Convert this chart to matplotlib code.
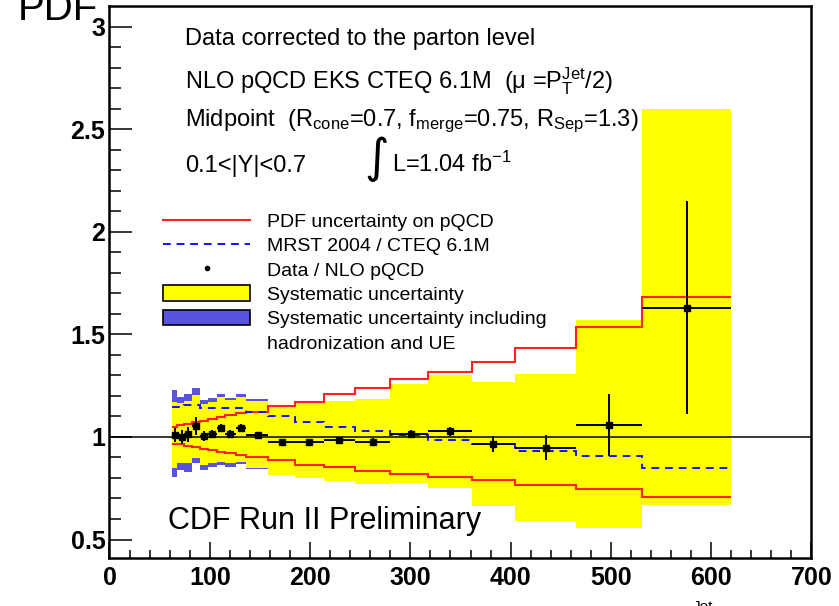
import matplotlib
matplotlib.use("Agg")
import matplotlib.pyplot as plt
from matplotlib.lines import Line2D
from matplotlib.patches import Patch
import numpy as np

plt.rcParams['font.family'] = ['Liberation Sans', 'DejaVu Sans']
plt.rcParams['mathtext.fontset'] = 'custom'
plt.rcParams['mathtext.rm'] = 'Liberation Sans'
plt.rcParams['mathtext.it'] = 'Liberation Sans:italic'
plt.rcParams['mathtext.bf'] = 'Liberation Sans:bold'

# pT bin edges (GeV/c)
edges = [62, 67, 74, 82, 90, 98, 107, 115, 126, 136, 158, 185, 214, 245,
         280, 318, 361, 404, 465, 531, 620]

# data / NLO pQCD
data_x = [65.3, 72, 78.6, 86.2, 94.2, 102.5, 111.2, 120.1, 131.1, 148.4,
          172.3, 198.9, 229.1, 263, 300.3, 339.8, 382.7, 434.9, 498.3, 576.1]
data_y = [1.01, 1.00, 1.013, 1.054, 1.006, 1.015, 1.042, 1.015, 1.042, 1.01,
          0.977, 0.977, 0.984, 0.977, 1.015, 1.028, 0.966, 0.948, 1.058, 1.63]
data_err = [0.035, 0.035, 0.037, 0.043, 0.024, 0.02, 0.02, 0.02, 0.02, 0.012,
            0.012, 0.012, 0.015, 0.018, 0.017, 0.022, 0.04, 0.06, 0.15, 0.52]

# PDF uncertainty on pQCD
pdf_hi = [1.05, 1.057, 1.062, 1.073, 1.078, 1.085, 1.095, 1.106, 1.118, 1.12,
          1.153, 1.172, 1.208, 1.237, 1.283, 1.317, 1.367, 1.433, 1.538, 1.68]
pdf_lo = [0.964, 0.964, 0.957, 0.951, 0.942, 0.936, 0.927, 0.92, 0.91, 0.9,
          0.886, 0.865, 0.852, 0.834, 0.821, 0.805, 0.79, 0.766, 0.745, 0.709]

# MRST 2004 / CTEQ 6.1M
mrst = [1.144, 1.144, 1.155, 1.155, 1.14, 1.14, 1.14, 1.14, 1.14, 1.12,
        1.10, 1.075, 1.05, 1.031, 1.008, 0.984, 0.966, 0.933, 0.907, 0.847]

# systematic uncertainty
sys_hi = [1.172, 1.164, 1.175, 1.205, 1.16, 1.172, 1.197, 1.18, 1.197, 1.175,
          1.145, 1.165, 1.177, 1.184, 1.259, 1.30, 1.27, 1.307, 1.57, 2.60]
sys_lo = [0.847, 0.871, 0.871, 0.896, 0.863, 0.871, 0.88, 0.871, 0.876, 0.85,
          0.815, 0.80, 0.787, 0.772, 0.774, 0.75, 0.663, 0.59, 0.558, 0.668]

# systematic incl. hadronization and UE (first 10 bins)
had_hi = [1.229, 1.197, 1.21, 1.24, 1.18, 1.19, 1.208, 1.19, 1.208, 1.185]
had_lo = [0.806, 0.839, 0.83, 0.871, 0.839, 0.855, 0.863, 0.855, 0.867, 0.842]

blue_fill = '#5a52e0'

fig = plt.figure(figsize=(8.39, 6.06), dpi=100)
ax = fig.add_axes([0.1305, 0.0792, 0.8367, 0.9109])

ax.stairs(had_hi, edges[:len(had_hi) + 1], baseline=had_lo, fill=True,
          color=blue_fill, zorder=1)
ax.stairs(sys_hi, edges, baseline=sys_lo, fill=True, color='#ffff00', zorder=2)
ax.stairs(pdf_hi, edges, baseline=None, color='#ff2020', lw=1.5, zorder=3)
ax.stairs(pdf_lo, edges, baseline=None, color='#ff2020', lw=1.5, zorder=3)
ax.stairs(mrst, edges, baseline=None, color='#1010ff', lw=1.4,
          linestyle=(0, (4, 3)), zorder=3)
ax.axhline(1, color='black', lw=1.1, zorder=4)

e = np.array(edges, dtype=float)
dx = np.array(data_x)
xerr = [dx - e[:-1], e[1:] - dx]
ax.errorbar(data_x, data_y, yerr=data_err, xerr=xerr, fmt='s', color='black',
            ms=4, lw=1.4, capsize=0, zorder=5)

ax.set_xlim(0, 700)
ax.set_ylim(0.41, 3.1)
ax.set_xticks(range(0, 701, 100))
ax.set_xticks(range(0, 701, 20), minor=True)
ax.set_yticks([0.5, 1, 1.5, 2, 2.5, 3])
ax.set_yticklabels(['0.5', '1', '1.5', '2', '2.5', '3'])
ax.set_yticks(np.arange(0.5, 3.05, 0.1), minor=True)
ax.tick_params(axis='x', which='major', direction='in', length=11.5, width=1.1,
               labelsize=18, pad=6, top=False)
ax.tick_params(axis='x', which='minor', direction='in', length=5.8, width=1.1,
               top=False)
ax.tick_params(axis='y', which='major', direction='in', length=16.5, width=1.1,
               labelsize=18, pad=3, right=False)
ax.tick_params(axis='y', which='minor', direction='in', length=8.6, width=1.1,
               right=False)
for lab in ax.get_xticklabels() + ax.get_yticklabels():
    lab.set_fontweight('bold')
for s in ax.spines.values():
    s.set_linewidth(1.8)

# header text
tx = 0.1075
ax.text(tx, 0.930, 'Data corrected to the parton level', transform=ax.transAxes,
        fontsize=17, va='baseline')
ax.text(tx, 0.851, r'NLO pQCD EKS CTEQ 6.1M  (μ =P$_{\mathrm{T}}^{\mathrm{Jet}}$/2)',
        transform=ax.transAxes, fontsize=17, va='baseline')
ax.text(tx, 0.782, r'Midpoint  (R$_{\mathrm{cone}}$=0.7, f$_{\mathrm{merge}}$=0.75, '
        r'R$_{\mathrm{Sep}}$=1.3)', transform=ax.transAxes, fontsize=17, va='baseline')
ax.text(tx, 0.699, '0.1<|Y|<0.7', transform=ax.transAxes, fontsize=17, va='baseline')
ax.text(0.381, 0.699, '∫', transform=ax.transAxes, fontsize=34, va='baseline',
        ha='center', family=['DejaVu Sans'])
ax.text(0.402, 0.699, r'L=1.04 fb$^{\mathrm{-1}}$', transform=ax.transAxes,
        fontsize=17, va='baseline')

ax.text(0.083, 0.052, 'CDF Run II Preliminary', transform=ax.transAxes,
        fontsize=22, va='baseline')

handles = [
    Line2D([], [], color='#ff2020', lw=1.5),
    Line2D([], [], color='#1010ff', lw=1.4, linestyle=(0, (4, 3))),
    Line2D([], [], color='black', marker='o', ls='none', ms=3),
    Patch(facecolor='#ffff00', edgecolor='black', lw=1.2),
    Patch(facecolor=blue_fill, edgecolor='black', lw=1.2),
    Line2D([], [], ls='none'),
]
labels = ['PDF uncertainty on pQCD', 'MRST 2004 / CTEQ 6.1M', 'Data / NLO pQCD',
          'Systematic uncertainty', 'Systematic uncertainty including',
          'hadronization and UE']
ax.legend(handles, labels, loc='upper left', bbox_to_anchor=(0.0762, 0.626),
          frameon=False, fontsize=14, handlelength=4.5, handletextpad=0.87,
          labelspacing=0.3, handleheight=0.85, borderpad=0, borderaxespad=0)

fig.text(18 / 839, 1 - 20 / 606, 'PDF', fontsize=29, va='baseline')
fig.text(703 / 839, 1 - 600 / 606, 'Jet', fontsize=11, va='top', ha='center')

fig.savefig('out.png', dpi=100)
